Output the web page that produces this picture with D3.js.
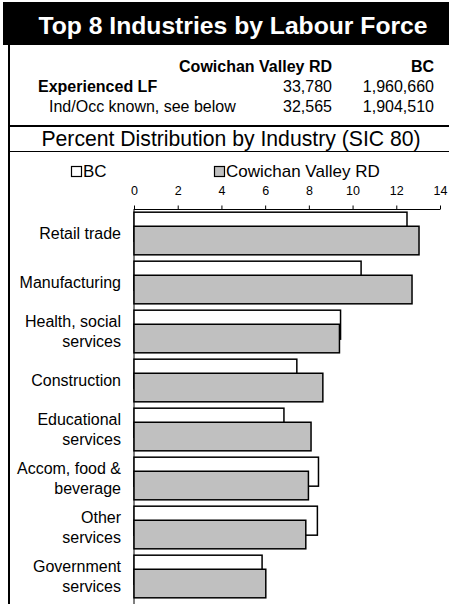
<!DOCTYPE html>
<html>
    <head>
        <meta charset="utf-8">
        <script src="https://d3js.org/d3.v7.min.js"></script>
        <style>
            body { margin: 0; background: #fff; }
            text { font-family: "Liberation Sans", Arial, sans-serif; fill: #000; }
        </style>
    </head>
    <body>

        <script>
            // industries, top to bottom
            var categories = [
                ['Retail trade'],
                ['Manufacturing'],
                ['Health, social', 'services'],
                ['Construction'],
                ['Educational', 'services'],
                ['Accom, food &', 'beverage'],
                ['Other', 'services'],
                ['Government', 'services']
            ];
            var bcValues  = [12.49, 10.39, 9.45, 7.45, 6.86, 8.44, 8.39, 5.86];
            var cvrdValues = [13.04, 12.72, 9.40, 8.64, 8.10, 7.98, 7.86, 6.03];
            var seriesNames = ['BC', 'Cowichan Valley RD'];
            var xTicks = [0, 2, 4, 6, 8, 10, 12, 14];

            // summary table
            var tableCols = ['Cowichan Valley RD', 'BC'];
            var tableRows = [
                { label: 'Experienced LF', bold: true, values: ['33,780', '1,960,660'] },
                { label: 'Ind/Occ known, see below', bold: false, values: ['32,565', '1,904,510'] }
            ];

            var W = 449, H = 604;

            var svg = d3.select('body')
                        .append('svg')
                        .attr('width', W)
                        .attr('height', H);

            // title band
            svg.append('rect')
                .attr('x', 3).attr('y', 2)
                .attr('width', W - 3).attr('height', 43)
                .style('fill', '#000');

            svg.append('text')
                .attr('x', 233).attr('y', 34)
                .attr('text-anchor', 'middle')
                .style('font-size', '24.7px')
                .style('font-weight', 'bold')
                .style('fill', '#fff')
                .text('Top 8 Industries by Labour Force');

            // frame lines
            svg.append('line')
                .attr('x1', 9).attr('x2', 9).attr('y1', 45).attr('y2', H)
                .style('stroke', '#000').style('stroke-width', 2);
            svg.append('line')
                .attr('x1', 9).attr('x2', W).attr('y1', 126).attr('y2', 126)
                .style('stroke', '#000').style('stroke-width', 2);
            svg.append('line')
                .attr('x1', 9).attr('x2', W).attr('y1', 151.5).attr('y2', 151.5)
                .style('stroke', '#000').style('stroke-width', 1);

            // table
            var colX = [332, 434];
            svg.selectAll('.colhead')
                .data(tableCols)
                .enter().append('text')
                    .attr('class', 'colhead')
                    .attr('x', function(d, i) { return colX[i]; })
                    .attr('y', 72)
                    .attr('text-anchor', 'end')
                    .style('font-size', '16px')
                    .style('font-weight', 'bold')
                    .text(function(d) { return d; });

            var row = svg.selectAll('.trow')
                .data(tableRows)
                .enter().append('g')
                    .attr('class', 'trow')
                    .attr('transform', function(d, i) { return 'translate(0,' + (92 + i * 19.5) + ')'; });

            row.append('text')
                .attr('x', function(d) { return d.bold ? 38 : 49; })
                .style('font-size', '16px')
                .style('font-weight', function(d) { return d.bold ? 'bold' : 'normal'; })
                .text(function(d) { return d.label; });

            row.selectAll('.val')
                .data(function(d) { return d.values; })
                .enter().append('text')
                    .attr('class', 'val')
                    .attr('x', function(d, i) { return colX[i]; })
                    .attr('text-anchor', 'end')
                    .style('font-size', '16px')
                    .text(function(d) { return d; });

            svg.append('text')
                .attr('x', 231).attr('y', 146)
                .attr('text-anchor', 'middle')
                .style('font-size', '21.2px')
                .text('Percent Distribution by Industry (SIC 80)');

            // legend
            var legendX = [71, 214];
            var legend = svg.selectAll('.legend')
                .data(seriesNames)
                .enter().append('g')
                    .attr('class', 'legend')
                    .attr('transform', function(d, i) { return 'translate(' + legendX[i] + ',166)'; });
            legend.append('rect')
                .attr('x', 0.5).attr('y', 0.5)
                .attr('width', 10).attr('height', 10)
                .style('fill', function(d, i) { return i ? '#c0c0c0' : '#fff'; })
                .style('stroke', '#000')
                .style('stroke-width', 1.2);
            legend.append('text')
                .attr('x', 12).attr('y', 11)
                .style('font-size', '17px')
                .text(function(d) { return d; });

            // chart
            var x = d3.scaleLinear().domain([0, 14]).range([134, 440]);
            var y = d3.scaleBand()
                        .domain(d3.range(categories.length))
                        .range([209, 601])
                        .paddingInner(0.13)
                        .paddingOuter(0.065);
            var bw = y.bandwidth();

            var xAxis = svg.append('g')
                .attr('transform', 'translate(0,209.5)')
                .call(d3.axisTop(x).tickValues(xTicks).tickSize(4).tickPadding(11));
            xAxis.select('.domain').attr('d', 'M' + x(0) + ',0H' + x(14)).style('stroke', '#000');
            xAxis.selectAll('.tick line').style('stroke', '#000');
            xAxis.selectAll('text')
                .style('font-size', '12.5px')
                .style('font-family', '"Liberation Sans", Arial, sans-serif');

            svg.append('line')
                .attr('x1', x(0)).attr('x2', x(0))
                .attr('y1', 209).attr('y2', H)
                .style('stroke', '#000').style('stroke-width', 1);

            var groups = svg.selectAll('.grp')
                .data(categories)
                .enter().append('g')
                    .attr('class', 'grp')
                    .attr('transform', function(d, i) { return 'translate(0,' + y(i) + ')'; });

            groups.append('rect')
                .attr('x', x(0))
                .attr('y', 0)
                .attr('width', function(d, i) { return x(bcValues[i]) - x(0); })
                .attr('height', bw * 0.68)
                .style('fill', '#fff')
                .style('stroke', '#000')
                .style('stroke-width', 1.5);

            groups.append('rect')
                .attr('x', x(0))
                .attr('y', bw * 0.33)
                .attr('width', function(d, i) { return x(cvrdValues[i]) - x(0); })
                .attr('height', bw * 0.67)
                .style('fill', '#c0c0c0')
                .style('stroke', '#000')
                .style('stroke-width', 1.5);

            groups.append('text')
                .attr('text-anchor', 'end')
                .attr('y', function(d) { return bw / 2 - (d.length - 1) * 10 + 5.5; })
                .style('font-size', '16px')
                .selectAll('tspan')
                .data(function(d) { return d; })
                .enter().append('tspan')
                    .attr('x', 121)
                    .attr('dy', function(d, i) { return i ? 20 : 0; })
                    .text(function(d) { return d; });

        </script>
    </body>
</html>
